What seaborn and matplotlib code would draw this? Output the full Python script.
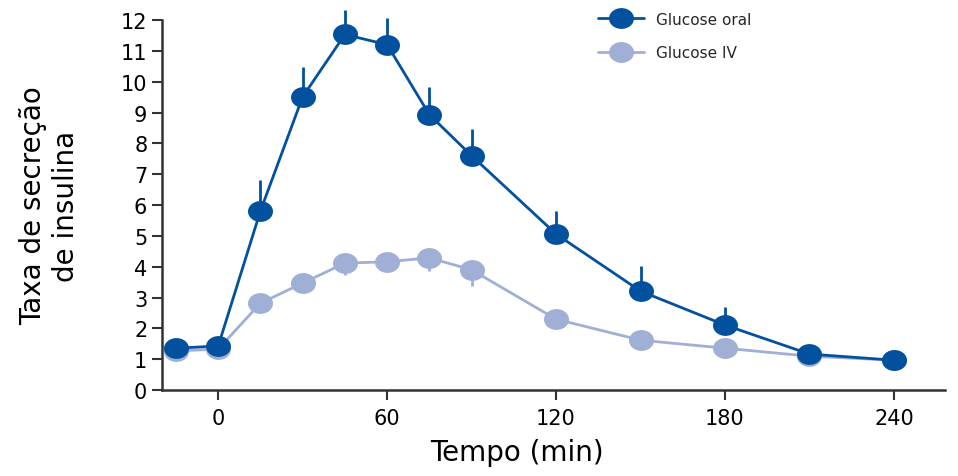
import numpy as np
import pandas as pd
import seaborn as sns
import matplotlib.pyplot as plt
from matplotlib.path import Path
from matplotlib.transforms import Affine2D

# tempos (min) e taxa de secreção de insulina
tempo = [-15, 0, 15, 30, 45, 60, 75, 90, 120, 150, 180, 210, 240]
oral = [1.36, 1.43, 5.81, 9.51, 11.53, 11.2, 8.93, 7.6, 5.06, 3.21, 2.11, 1.17, 0.97]
iv = [1.27, 1.33, 2.82, 3.47, 4.12, 4.16, 4.29, 3.9, 2.3, 1.62, 1.36, 1.1, 0.97]
# erro (só para um lado)
oral_err = [0, 0, 1.0, 0.95, 0.8, 0.85, 0.9, 0.85, 0.75, 0.82, 0.6, 0, 0]
iv_err = [0, 0, 0.1, 0.1, 0.4, 0, 0.43, 0.52, 0, 0, 0, 0, 0]

cor_oral = "#02519e"
cor_iv = "#a0afd6"

# marcador oval (um pouco mais largo que alto)
oval = Path.unit_circle().transformed(Affine2D().scale(1.2, 1.0))

sns.set_style("ticks")
plt.rcParams['font.family'] = ['DejaVu Sans']

fig = plt.figure(figsize=(9.58, 4.77), dpi=100)
ax = fig.add_axes([0.169, 0.180, 0.817, 0.776])

df = pd.DataFrame({"Tempo": tempo * 2,
                   "Taxa": oral + iv,
                   "Grupo": ["Glucose oral"] * len(tempo) + ["Glucose IV"] * len(tempo)})

# IV embaixo, oral por cima
ax.vlines(tempo, np.array(iv) - np.array(iv_err), iv, color=cor_iv, lw=2, zorder=1)
sns.lineplot(data=df[df.Grupo == "Glucose IV"], x="Tempo", y="Taxa", color=cor_iv,
             marker=oval, markersize=18, markeredgewidth=0, lw=2, ax=ax,
             label="Glucose IV", zorder=2)
ax.vlines(tempo, oral, np.array(oral) + np.array(oral_err), color=cor_oral, lw=2,
          zorder=3, clip_on=False)
sns.lineplot(data=df[df.Grupo == "Glucose oral"], x="Tempo", y="Taxa", color=cor_oral,
             marker=oval, markersize=18, markeredgewidth=0, lw=2, ax=ax,
             label="Glucose oral", zorder=4)
for l in ax.lines:
    l.set_clip_on(False)

ax.set_xlim(-20, 258)
ax.set_ylim(0, 12)
ax.set_xticks([0, 60, 120, 180, 240])
ax.set_yticks(range(0, 13))
ax.tick_params(axis="both", labelsize=15, width=1.5, length=7, color="#333333",
               labelcolor="black")
ax.tick_params(axis="x", pad=6)
for s in ["left", "bottom"]:
    ax.spines[s].set_linewidth(1.8)
    ax.spines[s].set_color("#333333")
sns.despine(ax=ax)

ax.set_xlabel("Tempo (min)", fontsize=20, labelpad=6, color="black")
ax.xaxis.set_label_coords(0.453, -0.13)
ax.set_ylabel("Taxa de secreção\nde insulina", fontsize=20, color="black")
ax.yaxis.set_label_coords(-0.105, 0.5)

h, lab = ax.get_legend_handles_labels()
leg = ax.legend(h[::-1], lab[::-1], loc="upper left", bbox_to_anchor=(0.54, 1.06),
                frameon=False, fontsize=11, handlelength=3, labelspacing=1.2)

fig.savefig("out.png", dpi=100)
